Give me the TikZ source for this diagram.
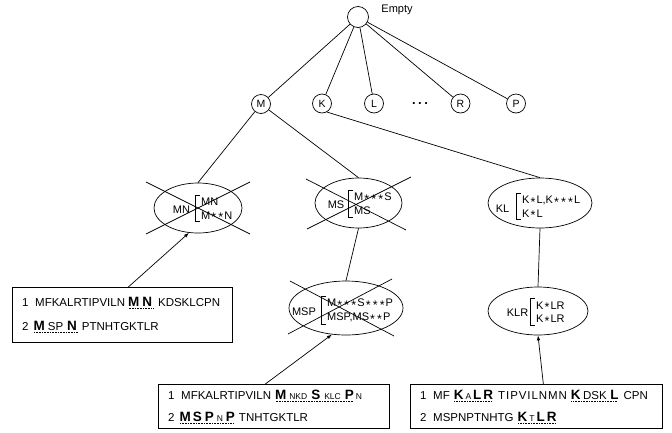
\documentclass[tikz,border=0pt]{standalone}
\usepackage{fontspec}
\setmainfont{Liberation Sans}
\usetikzlibrary{shapes.geometric,arrows.meta}

% dotted underline under a group of residues
\newsavebox\dubox
\newcommand\du[1]{\sbox\dubox{#1}\rlap{\raisebox{-2.6pt}{\leaders\hbox to 1.6pt{\hss\rule{0.7pt}{0.7pt}\hss}\hskip\wd\dubox}}\usebox\dubox}
% emphasised residue, small residue, wildcard
\newcommand\bl[1]{{\fontsize{13.5}{13.5}\selectfont\bfseries #1}}
\newcommand\sm[1]{{\fontsize{8.5}{8.5}\selectfont #1}}
\newcommand\st{\makebox[7pt]{\raisebox{-2.8pt}[6pt][0pt]{\fontsize{12.5}{12.5}\selectfont *}}}
\newcommand\wide[1]{{\addfontfeature{LetterSpace=8}#1}}

\begin{document}
\begin{tikzpicture}[x=1pt,y=-1pt,
  every node/.style={inner sep=0pt},
  edge/.style={line width=0.7pt},
  dotnode/.style={circle,draw,line width=0.7pt,minimum size=19pt,font=\fontsize{10.5}{12}\selectfont},
  rootnode/.style={circle,draw,line width=0.7pt,minimum size=21pt},
  ell/.style={ellipse,draw,line width=0.7pt},
  elab/.style={font=\fontsize{11}{13}\selectfont},
  erows/.style={font=\fontsize{11}{13.5}\selectfont,align=left,anchor=west,inner ysep=2.5pt},
  brk/.style={line width=0.6pt},
  cross/.style={line width=0.7pt},
  seqbox/.style={draw,line width=0.7pt,anchor=north west},
  seq/.style={font=\fontsize{11.5}{13}\selectfont,anchor=base west},
  arr/.style={line width=0.7pt,-{Latex[length=5pt,width=3.5pt]}}]

\fill[white] (0,0) rectangle (672,432);
\path[use as bounding box] (0,0) rectangle (672,432);

% ---- tree of prefixes ----
\node[rootnode] (root) at (358,17) {};
\node[font=\fontsize{11}{13}\selectfont] (empty) at (397,10) {Empty};

\node[dotnode] (m) at (261,104) {M};
\node[dotnode] (k) at (322,103.5) {K};
\node[dotnode] (l) at (374,103.5) {L};
\node[font=\fontsize{13}{13}\selectfont\bfseries] (dots) at (420,104) {.\hspace{2.5pt}.\hspace{2.5pt}.};
\node[dotnode] (r) at (460.5,103.5) {R};
\node[dotnode] (p) at (516,103.5) {P};

\foreach \c in {m,k,l,r,p} \draw[edge] (root) -- (\c);

% ---- pattern ellipses ----
\node[ell,minimum width=88pt,minimum height=50pt] (mn) at (198,208) {};
\node[elab] (mnl) at (181.5,210) {MN};
\node[erows] (mnr) at (201,208.5) {MN\\M\st\st N};

\node[ell,minimum width=87pt,minimum height=50pt] (ms) at (358.5,203) {};
\node[elab] (msl) at (336,205) {MS};
\node[erows] (msr) at (354,203.5) {M\st\st\st S\\MS};

\node[ell,minimum width=104pt,minimum height=50pt] (kl) at (540,203) {};
\node[elab] (kll) at (502.5,209) {KL};
\node[erows] (klr0) at (522,206.5) {K\st L,K\st\st\st L\\K\st L};

\node[ell,minimum width=114pt,minimum height=54pt] (msp) at (346,308) {};
\node[elab] (mspl) at (304,312) {MSP};
\node[erows] (mspr) at (327,310.5) {M\st\st\st S\st\st\st P\\MSP,MS\st\st P};

\node[ell,minimum width=100pt,minimum height=48pt] (klr) at (538,311) {};
\node[elab] (klrl) at (517.5,313) {KLR};
\node[erows] (klrr) at (536,312) {K\st LR\\K\st LR};

% brackets in front of the pattern lists
\foreach \n in {mnr,msr,klr0,mspr,klrr}
  \draw[brk] ([xshift=-1pt]\n.north west) -- ([xshift=-5.5pt]\n.north west)
    -- ([xshift=-5.5pt]\n.south west) -- ([xshift=-1pt]\n.south west);

% tree edges down to the ellipses
\draw[edge] (m) -- (mn.north);
\draw[edge] (m) -- (ms.north);
\draw[edge] (k.-60) -- (kl.north);
\draw[edge] (ms.south) -- (msp.north);
\draw[edge] (kl.south) -- (klr.north);

% rejected patterns are crossed out
\draw[cross] (146,182) -- (250,234);
\draw[cross] (250,182) -- (146,234);
\draw[cross] (306,179) -- (406,230);
\draw[cross] (411,177) -- (307,229);
\draw[cross] (290,281) -- (394,336);
\draw[cross] (392,279) -- (288,334);

% ---- sequence boxes ----
\node[seqbox,minimum width=220pt,minimum height=55pt] (b1) at (12,287) {};
\node[seq] (b1a) at (22,306) {1\hspace{6.6pt}MFKALRTIPVILN\hspace{3pt}\du{\bl{M}\hspace{3pt}\bl{N}\hspace{2pt}}\hspace{4pt}KDSKLCPN};
\node[seq] (b1b) at (22,330) {2\hspace{5pt}\du{\bl{M}\hspace{3pt}SP\hspace{4pt}\bl{N}\hspace{2pt}}\hspace{3pt}PTNHTGKTLR};

\node[seqbox,minimum width=231pt,minimum height=44pt] (b2) at (158,384) {};
\node[seq] (b2a) at (168,399) {1\hspace{6.6pt}MFKALRTIPVILN\hspace{4pt}\du{\bl{M}\hspace{3pt}\sm{NKD}\hspace{4pt}\bl{S}\hspace{4pt}\sm{KLC}\hspace{4pt}\bl{P}}\hspace{2pt}\sm{N}};
\node[seq] (b2b) at (168,421) {2\hspace{5pt}\du{\bl{M}\hspace{2pt}\bl{S}\hspace{3pt}\bl{P}\hspace{3pt}\sm{N}\hspace{3pt}\bl{P}}\hspace{4pt}TNHTGKTLR};

\node[seqbox,minimum width=252pt,minimum height=44pt] (b3) at (410,384) {};
\node[seq] (b3a) at (420,399) {1\hspace{6.6pt}MF\hspace{4pt}\du{\bl{K}\hspace{2pt}\sm{A}\hspace{2pt}\bl{L}\hspace{2pt}\bl{R}}\hspace{5pt}\wide{TIPVILNMN}\hspace{4pt}\du{\bl{K}\hspace{2.5pt}DSK\hspace{3.5pt}\bl{L}}\hspace{5pt}CPN};
\node[seq] (b3b) at (420,421) {2\hspace{6.6pt}MSPNPTNHTG\hspace{4pt}\du{\bl{K}\hspace{2pt}\sm{T}\hspace{2pt}\bl{L}\hspace{2pt}\bl{R}}};

% sequences point at the patterns they support
\draw[arr] ([xshift=6pt]b1.north) -- (mn.250);
\draw[arr] ([xshift=-8.5pt]b2.north) -- (msp.242);
\draw[arr] ([xshift=7pt]b3.north) -- (klr.south);
\end{tikzpicture}
\end{document}
